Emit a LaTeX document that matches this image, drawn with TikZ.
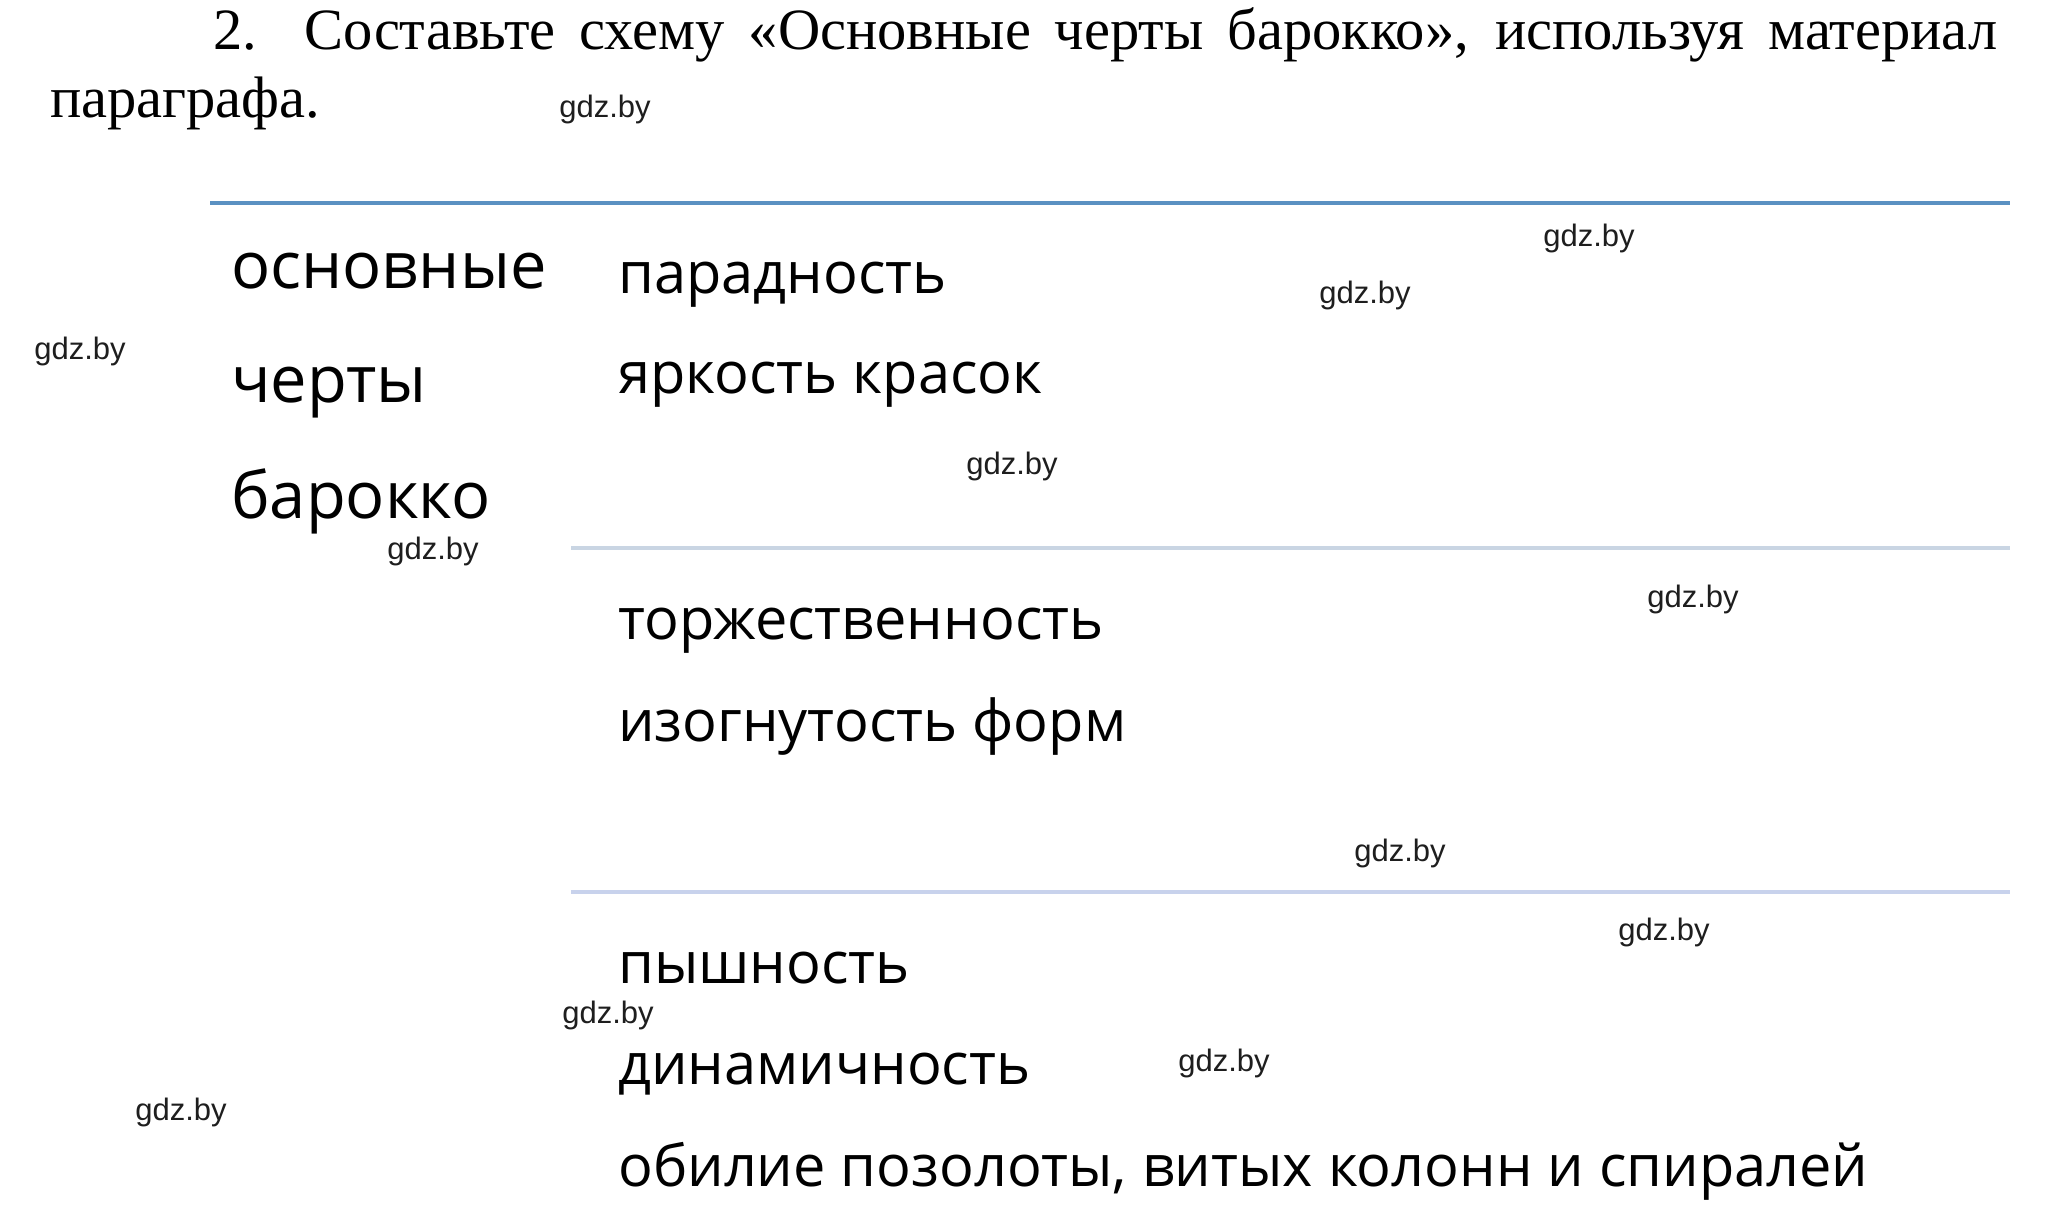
\documentclass[tikz,border=0pt]{standalone}
\usepackage{fontspec}
\newfontfamily\tnr{Liberation Serif}
\newfontfamily\osans{Open Sans}
\newfontfamily\wmf{Liberation Sans}
\definecolor{topline}{RGB}{91,145,194}
\definecolor{midline}{RGB}{201,213,227}
\definecolor{lowline}{RGB}{200,210,236}
\definecolor{wmcol}{RGB}{30,30,30}
\begin{document}
\begin{tikzpicture}[x=1pt,y=-1pt,
  title/.style={anchor=base west,inner sep=0pt,font=\tnr\fontsize{58.5}{58}\selectfont},
  head/.style={anchor=base west,inner sep=0pt,font=\osans\fontsize{65}{70}\selectfont},
  item/.style={anchor=base west,inner sep=0pt,font=\osans\fontsize{57.7}{64}\selectfont},
  wm/.style={anchor=base,inner sep=0pt,text=wmcol,font=\wmf\fontsize{31}{36}\selectfont},
  sepline/.style={line width=4pt}]
\useasboundingbox (0,0) rectangle (2046,1222);
% title
\node[title] (t1) at (213,50) {\makebox[1784pt][s]{2. Составьте схему «Основные черты барокко», используя материал}};
\node[title] (t2) at (50,118) {параграфа.};
% separator lines
\coordinate (l1a) at (210,203); \coordinate (l1b) at (2010,203);
\coordinate (l2a) at (571,548); \coordinate (l2b) at (2010,548);
\coordinate (l3a) at (571,892); \coordinate (l3b) at (2010,892);
\draw[sepline,topline] (l1a) -- (l1b);
\draw[sepline,midline] (l2a) -- (l2b);
\draw[sepline,lowline] (l3a) -- (l3b);
% left column
\node[head] (h1) at (231,289) {основные};
\node[head] (h2) at (231,403) {черты};
\node[head] (h3) at (231,518) {барокко};
% items
\node[item] (a1) at (618,294) {парадность};
\node[item] (a2) at (618,394) {яркость красок};
\node[item] (b1) at (618,639) {торжественность};
\node[item] (b2) at (618,741) {изогнутость форм};
\node[item] (c1) at (618,983) {пышность};
\node[item] (c2) at (618,1084) {динамичность};
\node[item] (c3) at (618,1186) {обилие позолоты, витых колонн и спиралей};
% watermarks
\node[wm] (w1) at (605,118) {gdz.by};
\node[wm] (w2) at (1589,247) {gdz.by};
\node[wm] (w3) at (1365,304) {gdz.by};
\node[wm] (w4) at (80,360) {gdz.by};
\node[wm] (w5) at (1012,475) {gdz.by};
\node[wm] (w6) at (433,559) {gdz.by};
\node[wm] (w7) at (1693,607) {gdz.by};
\node[wm] (w8) at (1400,861) {gdz.by};
\node[wm] (w9) at (1664,940) {gdz.by};
\node[wm] (w10) at (608,1023) {gdz.by};
\node[wm] (w11) at (1224,1071) {gdz.by};
\node[wm] (w12) at (181,1120) {gdz.by};
\end{tikzpicture}
\end{document}
